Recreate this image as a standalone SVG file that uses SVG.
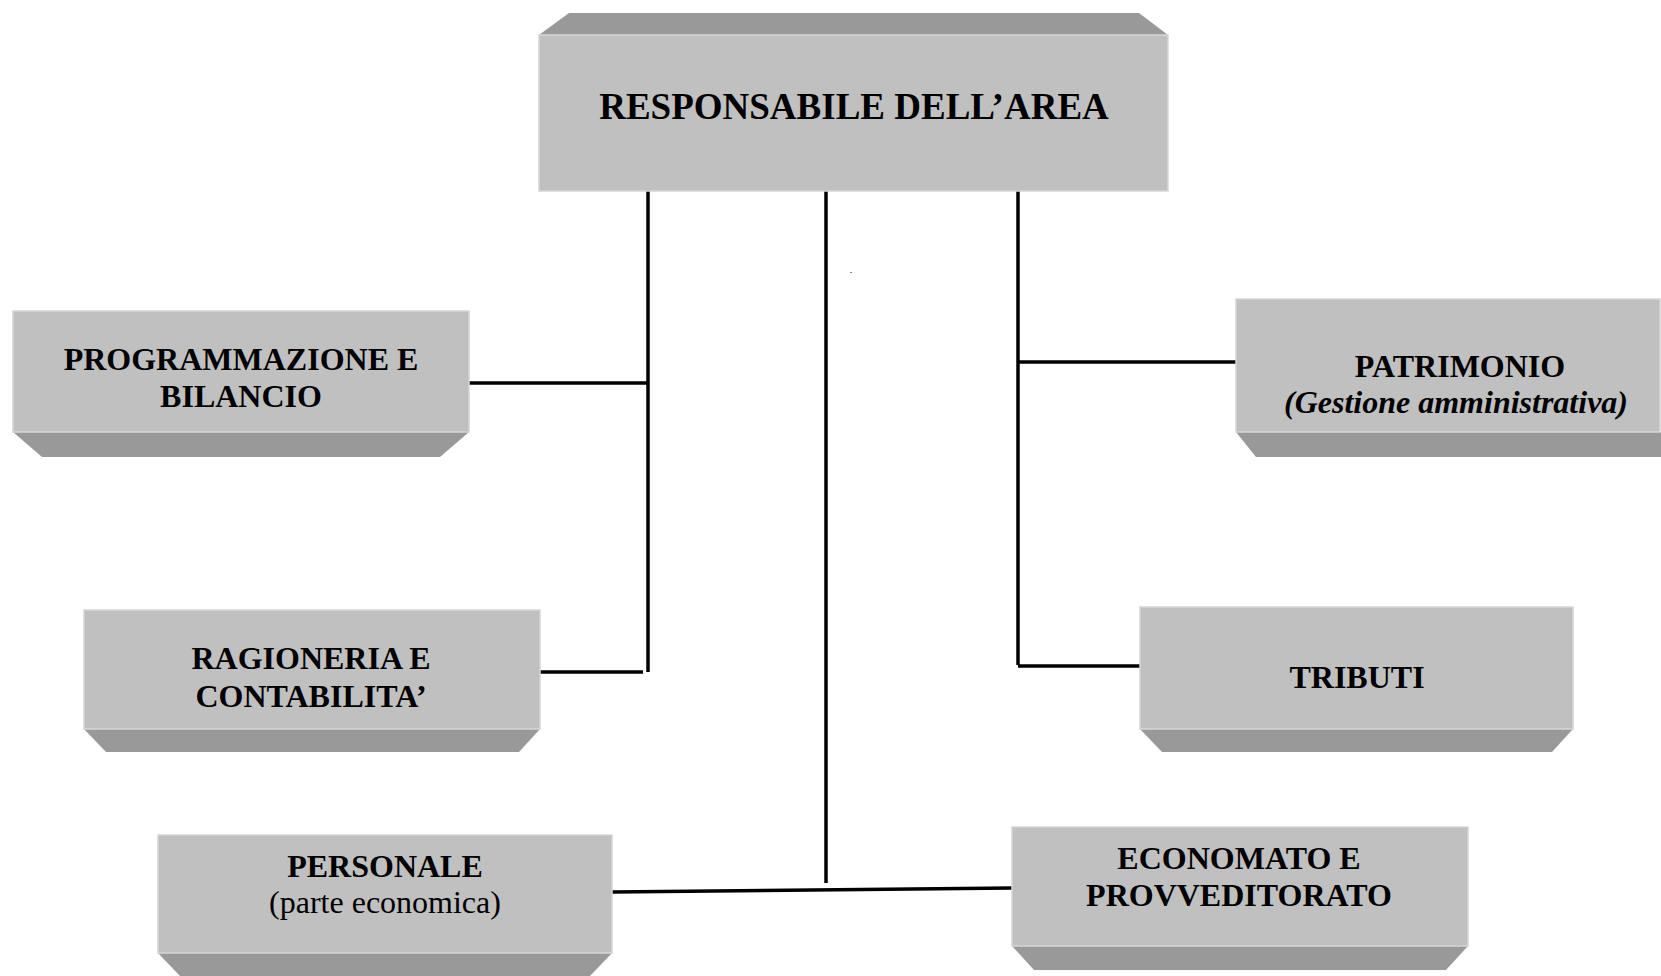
<svg xmlns="http://www.w3.org/2000/svg" width="1661" height="976" viewBox="0 0 1661 976">
<style>
.face{fill:#c0c0c0;stroke:#d6d6d6;stroke-width:1.5}
.bevel{fill:#999999}
.t{font-family:"Liberation Serif","Times New Roman",serif;font-weight:bold;font-size:32px;fill:#000;text-anchor:middle}
.n{font-weight:normal}
.i{font-style:italic}
.big{font-size:37px}
.c{stroke:#000;stroke-width:3.5;fill:none}
</style>
<rect width="1661" height="976" fill="#ffffff"/>
<g id="connectors">
<line class="c" x1="648" y1="191" x2="648" y2="672"/>
<line class="c" x1="469" y1="383" x2="648" y2="383"/>
<line class="c" x1="535" y1="672" x2="643" y2="672"/>
<line class="c" x1="826" y1="191" x2="826" y2="883"/>
<line class="c" x1="612" y1="892" x2="1012" y2="888"/>
<line class="c" x1="1018" y1="191" x2="1018" y2="665"/>
<line class="c" x1="1018" y1="362" x2="1236" y2="362"/>
<line class="c" x1="1018" y1="666" x2="1140" y2="666"/>
</g>
<g id="responsabile">
<polygon class="bevel" points="539,35 1168,35 1139,13 569,13"/>
<rect class="face" x="539" y="35" width="629" height="156"/>
<text class="t big" x="854" y="119">RESPONSABILE DELL’AREA</text>
</g>
<g id="programmazione">
<polygon class="bevel" points="13,432 469,432 440,457 42,457"/>
<rect class="face" x="13" y="311" width="456" height="121"/>
<text class="t" x="241" y="370">PROGRAMMAZIONE E</text>
<text class="t" x="241" y="407">BILANCIO</text>
</g>
<g id="patrimonio">
<polygon class="bevel" points="1236,432 1661,432 1661,457 1256,457"/>
<rect class="face" x="1236" y="299" width="424" height="133"/>
<text class="t" x="1460" y="377">PATRIMONIO</text>
<text class="t i" x="1456" y="413">(Gestione amministrativa)</text>
</g>
<g id="ragioneria">
<polygon class="bevel" points="84,729 540,729 519,752 106,752"/>
<rect class="face" x="84" y="610" width="456" height="119"/>
<text class="t" x="311" y="669">RAGIONERIA E</text>
<text class="t" x="311" y="707">CONTABILITA’</text>
</g>
<g id="tributi">
<polygon class="bevel" points="1140,729 1573,729 1552,752 1162,752"/>
<rect class="face" x="1140" y="607" width="433" height="122"/>
<text class="t" x="1357" y="688">TRIBUTI</text>
</g>
<g id="personale">
<polygon class="bevel" points="158,953 612,953 590,976 180,976"/>
<rect class="face" x="158" y="835" width="454" height="118"/>
<text class="t" x="385" y="877">PERSONALE</text>
<text class="t n" x="385" y="913">(parte economica)</text>
</g>
<g id="economato">
<polygon class="bevel" points="1012,946 1468,946 1446,970 1034,970"/>
<rect class="face" x="1012" y="827" width="456" height="119"/>
<text class="t" x="1239" y="869">ECONOMATO E</text>
<text class="t" x="1239" y="906">PROVVEDITORATO</text>
</g>
<text x="851" y="273" font-family="Liberation Serif, serif" font-size="10" text-anchor="middle">.</text>
</svg>
